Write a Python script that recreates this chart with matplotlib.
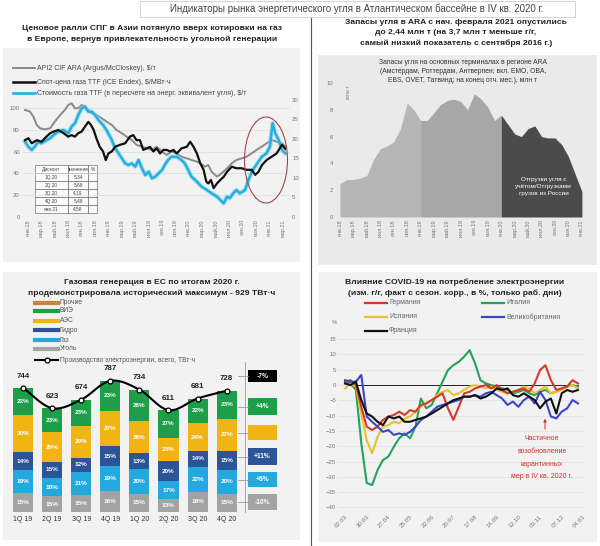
import numpy as np
import matplotlib
matplotlib.use("Agg")
import matplotlib.pyplot as plt
from matplotlib.patches import Rectangle, Ellipse, FancyArrowPatch
from matplotlib.lines import Line2D

plt.rcParams["font.family"] = ["Liberation Sans", "DejaVu Sans"]

# ---------------- data ----------------
# top-left: (month since Jan 2018, value)
coal_api2 = [(-0.45, 98.2), (0.3, 96.6), (0.8, 92.0), (1.3, 84.4), (1.8, 81.3), (2.5, 80.4), (3.3, 81.3),
             (4.0, 87.5), (4.8, 93.6), (5.5, 98.2), (6.0, 102.7), (6.5, 104.3), (7.0, 99.7), (7.5, 99.7),
             (8.0, 102.7), (8.5, 101.2), (9.0, 98.2), (9.5, 95.1), (10.2, 93.6), (11.0, 90.5), (11.7, 87.5),
             (12.5, 84.4), (13.2, 79.8), (14.0, 76.8), (14.7, 73.7), (15.5, 70.6), (16.2, 66.1), (17.0, 64.5),
             (17.7, 63.0), (18.5, 61.5), (19.2, 64.5), (20.0, 59.9), (20.7, 56.9), (21.4, 59.9), (22.2, 58.4),
             (22.9, 55.3), (23.7, 53.8), (24.4, 52.3), (25.2, 50.8), (25.7, 49.2), (26.4, 46.2), (26.9, 47.7),
             (27.4, 41.6), (28.2, 37.0), (28.9, 40.1), (29.7, 44.6), (30.4, 49.2), (31.1, 52.3), (31.9, 53.8),
             (32.6, 55.3), (33.4, 58.4), (34.1, 61.5), (34.9, 64.5), (35.6, 67.6), (36.4, 70.6), (37.1, 69.1),
             (37.9, 67.6), (38.4, 64.5)]
gas_ttf = [(-0.45, 19.7), (0.05, 20.2), (0.55, 18.9), (1.3, 19.7), (2.0, 19.3), (2.5, 20.2), (3.3, 21.5),
           (3.8, 21.9), (4.5, 22.3), (5.3, 21.5), (6.0, 20.6), (6.5, 21.0), (7.0, 20.6), (7.5, 21.5), (8.0, 21.9),
           (8.5, 23.2), (9.0, 24.4), (9.4, 23.6), (9.8, 22.3), (10.2, 20.2), (10.7, 18.0), (11.2, 16.8),
           (11.6, 14.6), (12.0, 16.3), (12.5, 16.8), (13.0, 18.0), (13.7, 18.5), (14.5, 18.9), (15.2, 20.6),
           (15.7, 21.0), (16.2, 19.7), (16.7, 19.7), (17.2, 17.2), (17.7, 17.6), (18.2, 18.0), (18.7, 16.8),
           (19.2, 17.6), (19.7, 16.3), (20.2, 17.2), (20.7, 17.2), (21.2, 16.8), (21.7, 17.2), (22.2, 16.3),
           (22.9, 17.6), (23.7, 18.0), (24.2, 19.3), (24.7, 18.0), (25.2, 16.3), (25.7, 13.8), (26.2, 12.1),
           (26.6, 9.1), (26.9, 8.6), (27.3, 9.5), (27.7, 7.4), (28.2, 8.6), (28.7, 9.5), (29.2, 10.3),
           (29.7, 11.6), (30.4, 12.9), (31.1, 12.5), (31.9, 12.5), (32.6, 12.1), (33.4, 12.1), (33.9, 10.8),
           (34.4, 11.6), (34.9, 13.3), (35.6, 14.6), (36.4, 15.5), (37.1, 16.3), (37.9, 18.5), (38.4, 17.5)]
gas_coal_eq = [(-0.45, 69.1), (0.05, 64.5), (0.55, 61.5), (1.0, 64.5), (1.5, 69.1), (2.0, 67.6), (2.8, 70.6),
               (3.3, 72.2), (3.8, 75.2), (4.5, 78.3), (5.3, 79.8), (6.0, 76.8), (6.5, 82.9), (7.0, 85.9),
               (7.5, 93.6), (8.0, 99.7), (8.5, 101.2), (9.0, 96.6), (9.5, 96.6), (10.0, 93.6), (10.5, 89.0),
               (11.2, 84.4), (11.7, 79.8), (12.5, 70.6), (13.0, 63.0), (13.5, 58.4), (14.0, 53.8), (14.5, 49.2),
               (15.0, 47.7), (15.5, 49.2), (16.0, 46.2), (16.5, 52.3), (17.0, 44.6), (17.5, 38.5), (18.0, 41.6),
               (18.5, 35.5), (19.0, 37.0), (19.5, 40.1), (20.0, 43.1), (20.4, 47.7), (20.9, 52.3), (21.4, 55.3),
               (22.2, 55.3), (22.9, 52.3), (23.4, 49.2), (23.9, 43.1), (24.4, 37.0), (25.2, 32.4), (25.9, 27.8),
               (26.7, 24.8), (27.4, 21.7), (28.2, 18.7), (28.7, 15.6), (29.2, 12.5), (29.7, 18.7), (30.1, 17.1),
               (30.6, 21.7), (31.1, 24.8), (31.6, 21.7), (32.4, 24.8), (32.9, 33.9), (33.4, 41.6), (33.9, 46.2),
               (34.4, 50.8), (34.9, 55.3), (35.6, 58.4), (36.1, 64.5), (36.5, 85.9), (36.9, 76.8), (37.4, 70.6),
               (37.9, 61.5), (38.4, 58.4)]
month_labels = ["янв.18", "мар.18", "май.18", "июл.18", "сен.18", "ноя.18", "янв.19", "мар.19", "май.19",
                "июл.19", "сен.19", "ноя.19", "янв.20", "мар.20", "май.20", "июл.20", "сен.20", "ноя.20",
                "янв.21", "мар.21"]
spread_rows = ["1Q.20", "2Q.20", "3Q.20", "4Q.20", "янв.21"]
spread_vals = ["5,34", "5,68", "4,19", "5,48", "4,58"]

# top-right: ARA coal stocks, monthly Jan 2018 - Jan 2021, mln t
ara_stocks = [2.5, 2.8, 2.8, 2.9, 3.1, 4.3, 5.1, 5.3, 5.6, 6.6, 8.5, 8.0, 7.2, 7.2, 7.8, 8.4, 8.7, 8.8, 8.6,
              8.0, 9.2, 8.8, 8.2, 7.2, 7.6, 6.9, 6.2, 6.0, 6.6, 6.8, 6.0, 5.9, 5.9, 5.4, 4.5, 3.2, 1.9]

# bottom-left: EU generation by quarter
quarters = ["1Q 19", "2Q 19", "3Q 19", "4Q 19", "1Q 20", "2Q 20", "3Q 20", "4Q 20"]
total_twh = [744, 623, 674, 787, 734, 611, 681, 728]
share_coal = [15, 15, 15, 16, 15, 13, 18, 15]      # gray, bottom
share_gas = [19, 18, 21, 19, 20, 17, 22, 20]       # light blue
share_hydro = [14, 15, 12, 15, 13, 20, 14, 15]     # dark blue
share_nuclear = [30, 29, 29, 27, 26, 23, 24, 27]   # yellow
share_res = [22, 23, 23, 23, 26, 27, 22, 23]       # green, top
yoy_labels = ["-7%", "+4%", "", "+11%", "+6%", "-10%"]

# bottom-right: weekly y/y change of power demand, %
week_labels = ["02.03", "30.03", "27.04", "25.05", "22.06", "20.07", "17.08", "14.09", "12.10", "09.11",
               "07.12", "04.01"]
germany = [1.1, 1.6, 0, -7.1, -13.6, -14.7, -13.6, -11.4, -10.3, -9.8, -8.7, -9.8, -8.2, -8.7, -6.5, -6.0,
           -4.9, -3.8, -2.7, -7.6, -11.4, -7.1, -2.7, -2.2, -1.1, -0.5, 0, -1.1, 0, -1.6, -2.7, -2.2, -1.6,
           -1.1, -2.2, 0.5, 4.9, 6.5, 1.6, -1.6, -1.1, -0.5, 1.6, 0.5]
italy = [1.1, 0.5, -1.6, -19, -32, -32.7, -27.8, -24.5, -23.4, -20.2, -17.4, -15.8, -17.4, -13.6, -4.4, -7.6,
         -6.5, -2.7, 1.1, 4.9, 6.5, 7.6, 9.3, 11.4, 7.1, 1.6, 0.5, 0, -0.5, -1.1, -1.6, -2.7, -2.2, -1.6, -2.7,
         -3.3, -2.2, -1.6, -2.7, -2.2, -1.1, -0.5, 0, -0.5]
spain = [-1.1, 0.5, -0.5, -9.3, -18, -22.3, -16.9, -13.6, -13.1, -12.0, -12.5, -10.9, -10.3, -8.7, -7.1, -6.0,
         -4.9, -3.3, -2.2, -1.6, -3.3, -2.7, -1.6, -0.5, 0, -0.5, -1.1, -0.5, -1.6, -2.2, -2.7, -2.2, -1.6,
         -0.5, -1.1, -2.7, -1.6, -0.5, -2.7, -2.2, -1.6, -0.5, 0, -1.1]
uk = [1.6, 1.1, 1.1, 3.3, -10.3, -12.0, -13.6, -15.3, -14.7, -16.3, -15.8, -16.3, -15.3, -13.6, -11.4, -10.3,
      -8.7, -7.1, -6.5, -6.0, -5.4, -4.9, -3.8, -3.8, -3.3, -3.8, -2.7, -2.2, -3.3, -4.4, -6.5, -5.4, -7.1,
      -4.9, -3.8, -6.0, -2.2, -4.9, -10.3, -10.9, -8.7, -7.6, -4.9, -6.0]
france = [0.5, 0, 1.1, -4.9, -9.3, -10.3, -12.0, -13.1, -10.3, -10.9, -10.3, -12.0, -12.0, -11.4, -10.9, -10.3,
          -9.3, -8.2, -7.1, -6.0, -4.9, -4.4, -3.8, -3.8, -3.3, -4.4, -3.8, -2.7, -1.1, -1.6, -1.1, -3.3, -3.8,
          -2.7, -3.8, -4.9, -7.6, -5.4, -4.4, -9.3, -2.7, -1.6, -2.2, -1.6]

# ---------------- layout helpers (pixels) ----------------
W, H = 600, 546
fig = plt.figure(figsize=(6, 5.46), dpi=100, facecolor="white")


def box(l, t, r, b):
    return [l / W, 1 - b / H, (r - l) / W, (b - t) / H]


def ftext(x, y, s, **kw):
    fig.text(x / W, 1 - y / H, s, **kw)


def frect(l, t, r, b, **kw):
    fig.add_artist(Rectangle((l / W, 1 - b / H), (r - l) / W, (b - t) / H, transform=fig.transFigure, **kw))


def fline(xs, ys, **kw):
    fig.add_artist(Line2D([x / W for x in xs], [1 - y / H for y in ys], transform=fig.transFigure, **kw))


def smooth(xs, ys, n=16):
    # catmull-rom through the points
    xs, ys = np.asarray(xs, float), np.asarray(ys, float)
    px = np.r_[2 * xs[0] - xs[1], xs, 2 * xs[-1] - xs[-2]]
    py = np.r_[2 * ys[0] - ys[1], ys, 2 * ys[-1] - ys[-2]]
    ox, oy = [], []
    t = np.linspace(0, 1, n, endpoint=False)
    for i in range(1, len(px) - 2):
        for p, o in ((px, ox), (py, oy)):
            p0, p1, p2, p3 = p[i - 1], p[i], p[i + 1], p[i + 2]
            o.extend(0.5 * (2 * p1 + (-p0 + p2) * t + (2 * p0 - 5 * p1 + 4 * p2 - p3) * t ** 2
                            + (-p0 + 3 * p1 - 3 * p2 + p3) * t ** 3))
    ox.append(xs[-1]); oy.append(ys[-1])
    return ox, oy


def clean(ax):
    for s in ax.spines.values():
        s.set_visible(False)
    ax.tick_params(length=0, labelsize=4.3, labelcolor="#777777", pad=1.5)
    ax.set_facecolor("none")


# panel backgrounds and frame (behind the axes)
bg = dict(edgecolor="none", zorder=-10)
frect(3, 48, 300, 262, facecolor="#f2f2f2", **bg)
frect(318, 55, 597, 265, facecolor="#eaeaea", **bg)
frect(3, 272, 300, 540, facecolor="#f2f2f2", **bg)
frect(318, 272, 597, 542, facecolor="#f2f2f2", **bg)
fline([311, 311], [18, 546], color="#555555", lw=0.8)
frect(140, 1, 575, 17, facecolor="white", edgecolor="#cccccc", lw=0.6, zorder=-5)
ftext(357, 9, "Индикаторы рынка энергетического угля в Атлантическом бассейне в IV кв. 2020 г.",
      fontsize=7, color="#444444", ha="center", va="center")

# ---------------- top-left ----------------
bold = dict(fontsize=6.1, fontweight="bold", color="#222222", ha="center", va="center")
ftext(152, 28, "Ценовое ралли СПГ в Азии потянуло вверх котировки на газ", **bold)
ftext(152, 39, "в Европе, вернув привлекательность угольной генерации", **bold)

legend_tl = [("#8a8a8a", 1.4, "API2 CIF ARA (Argus/McCloskey), $/т", 68),
             ("#111111", 1.8, "Спот-цена газа TTF (ICE Endex), $/МВт·ч", 82),
             ("#2bb5e3", 2.0, "Стоимость газа TTF (в пересчете на энерг. эквивалент угля), $/т", 93)]
for col, lw, lab, y in legend_tl:
    fline([13, 35], [y, y], color=col, lw=lw)
    ftext(37, y, lab, fontsize=5, color="#444444", va="center")

ax1 = fig.add_axes(box(22, 100, 290, 217))
ax1r = ax1.twinx()
for a in (ax1, ax1r):
    clean(a)
ax1.set_xlim(-0.9, 39.1)
ax1.set_ylim(0, 107.3)
ax1r.set_ylim(0, 30)
ax1.set_yticks(range(0, 101, 20))
ax1r.set_yticks(range(0, 31, 5))
ax1.grid(axis="y", color="#dddddd", lw=0.5)
ax1.set_axisbelow(True)
ax1.set_xticks(range(0, 39, 2))
ax1.set_xticklabels(month_labels, rotation=90, fontsize=4)

m, v = zip(*coal_api2)
ax1.plot(m, v, color="#8a8a8a", lw=1.4)
m, v = zip(*gas_coal_eq)
ax1.plot(m, v, color="#8fd8f0", lw=3.4, alpha=0.6)
ax1.plot(m, v, color="#22b0e0", lw=1.8)
m, v = zip(*gas_ttf)
ax1r.plot(m, v, color="#111111", lw=1.6)

tbl = ax1.table(cellText=[[r, val, ""] for r, val in zip(spread_rows, spread_vals)],
                colLabels=["Дисконт", "значение", "%"], colWidths=[0.53, 0.33, 0.14],
                bbox=[0.0485, 0.034, 0.231, 0.41], cellLoc="center")
tbl.auto_set_font_size(False)
for cell in tbl.get_celld().values():
    cell.set_fontsize(3.4)
    cell.set_linewidth(0.4)
    cell.set_edgecolor("#555555")
    cell.set_facecolor("#fafafa")
    cell.get_text().set_color("#444444")

fig.add_artist(Ellipse((266 / W, 1 - 160 / H), 43 / W, 86 / H, transform=fig.transFigure,
                       fill=False, edgecolor="#a34848", lw=0.8))

# ---------------- top-right ----------------
for i, s in enumerate(["Запасы угля в ARA с нач. февраля 2021 опустились",
                       "до 2,44 млн т (на 3,7 млн т меньше г/г,",
                       "самый низкий показатель с сентября 2016 г.)"]):
    ftext(456, 22 + 10.5 * i, s, **bold)
for i, s in enumerate(["Запасы угля на основных терминалах в регионе ARA",
                       "(Амстердам, Роттердам, Антверпен; вкл. EMO, OBA,",
                       "EBS, OVET, Татвинд; на конец отч. мес.), млн т"]):
    ftext(463, 63 + 8.5 * i, s, fontsize=4.9, color="#333333", ha="center", va="center")

ax2 = fig.add_axes(box(335, 83, 587, 217))
clean(ax2)
ax2.set_xlim(-0.74, 36.76)
ax2.set_ylim(0, 10)
mon = np.arange(len(ara_stocks))
ax2.fill_between(mon[:13], ara_stocks[:13], color="#b6b6b6", lw=0)
ax2.fill_between(mon[12:25], ara_stocks[12:25], color="#a7a7a7", lw=0)
ax2.fill_between(mon[24:], ara_stocks[24:], color="#4b4b4b", lw=0)
ax2.set_yticks(range(0, 11, 2))
ax2.set_xticks(range(0, 37, 2))
ax2.set_xticklabels(month_labels[:19], rotation=90, fontsize=4)
ax2.text(1.2, 9.8, "млн т", rotation=90, fontsize=3.8, color="#777777", ha="center", va="top")
ax2.text(30.3, 2.3, "Отгрузки угля с\nучётом/Отгрузками\nгрузов из России", fontsize=4.6,
         color="white", ha="center", va="center", linespacing=1.5)

# ---------------- bottom-left ----------------
ftext(152, 282, "Газовая генерация в ЕС по итогам 2020 г.", **bold)
ftext(152, 293, "продемонстрировала исторический максимум - 929 ТВт·ч", **bold)

colors_bl = {"coal": "#a3a3a3", "gas": "#23a9de", "hydro": "#2b5596", "nuc": "#f0b514", "res": "#1f9e4a"}
legend_bl = [("#c8843c", "Прочие", 303), (colors_bl["res"], "ВИЭ", 311), (colors_bl["nuc"], "АЭС", 321),
             (colors_bl["hydro"], "Гидро", 330), (colors_bl["gas"], "Газ", 340), (colors_bl["coal"], "Уголь", 349)]
for col, lab, y in legend_bl:
    fline([35, 58], [y, y], color=col, lw=3)
    ftext(60, y, lab, fontsize=4.8, color="#555555", va="center")
fline([35, 58], [360, 360], color="black", lw=1.5)
fline([46.5], [360], marker="o", ms=3.5, mfc="white", mec="black", mew=0.9)
ftext(60, 360, "Производство электроэнергии, всего, ТВт·ч", fontsize=4.8, color="#555555", va="center")

ax3 = fig.add_axes(box(8, 360, 290, 512))
clean(ax3)
ax3.set_xlim(-0.515, 9.175)
ax3.set_ylim(0, 912)
ax3.set_yticks([])
x = np.arange(len(quarters))
tot = np.array(total_twh, float)
bottom = np.zeros(len(x))
for key, sh in (("coal", share_coal), ("gas", share_gas), ("hydro", share_hydro),
                ("nuc", share_nuclear), ("res", share_res)):
    h = tot * np.array(sh) / 100
    ax3.bar(x, h, bottom=bottom, width=0.69, color=colors_bl[key], lw=0)
    for xi, b, hh, s in zip(x, bottom, h, sh):
        ax3.text(xi, b + hh / 2, f"{s}%", ha="center", va="center", fontsize=4.6,
                 fontweight="bold", color="white")
    bottom += h
sx, sy = smooth(x, tot)
ax3.plot(sx, sy, color="black", lw=1.5)
ax3.plot(x, tot, "o", ms=3.5, mfc="white", mec="black", mew=0.9)
for xi, t in zip(x, total_twh):
    ax3.text(xi, t + 50, str(t), ha="center", va="bottom", fontsize=5.8, fontweight="bold", color="#222222")
ax3.set_xticks(x)
ax3.set_xticklabels(quarters, fontsize=5, color="#333333")
ax3.tick_params(axis="x", labelcolor="#333333", pad=3)

box_cols = ["black", colors_bl["res"], colors_bl["nuc"], colors_bl["hydro"], colors_bl["gas"], colors_bl["coal"]]
box_pos = [(370, 382), (398, 415), (425, 440), (448, 465), (472, 487), (494, 510)]
fline([245, 245], [362, 512], color="#9a9a9a", lw=0.6)
for col, (t, b), lab in zip(box_cols, box_pos, yoy_labels):
    frect(248, t, 277, b, facecolor=col, edgecolor="none")
    fline([238, 248], [(t + b) / 2, (t + b) / 2], color="#9a9a9a", lw=0.6)
    ftext(262.5, (t + b) / 2, lab, fontsize=4.8, fontweight="bold", color="white", ha="center", va="center")

# ---------------- bottom-right ----------------
ftext(455, 282, "Влияние COVID-19 на потребление электроэнергии", **bold)
ftext(455, 293, "(изм. г/г, факт с сезон. корр., в %, только раб. дни)", **bold)

colors_br = {"Германия": "#d8372c", "Италия": "#22a35a", "Испания": "#e7c22e",
             "Великобритания": "#3b45c8", "Франция": "#111111"}
legend_br = [("Германия", 365, 303), ("Испания", 365, 317), ("Франция", 365, 331),
             ("Италия", 482, 303), ("Великобритания", 482, 317)]
for lab, x0, y in legend_br:
    fline([x0, x0 + 22], [y, y], color=colors_br[lab], lw=1.6)
    ftext(x0 + 24, y, lab, fontsize=5, color="#666666", va="center")

ax4 = fig.add_axes(box(338, 330, 585, 512))
clean(ax4)
ax4.set_xlim(-1.3, 44.3)
ax4.set_ylim(-41.5, 18)
ax4.set_yticks(range(-40, 16, 5))
ax4.grid(axis="y", color="#e2e2e2", lw=0.5)
ax4.set_axisbelow(True)
wk = np.arange(len(germany))
ax4.hlines(0, 2, 43, color="#222222", lw=0.7)
for lab, ser in (("Италия", italy), ("Испания", spain), ("Германия", germany),
                 ("Великобритания", uk), ("Франция", france)):
    ax4.plot(wk, ser, color=colors_br[lab], lw=1.5)
ax4.set_xticks(range(0, 45, 4))
ax4.set_xticklabels(week_labels, rotation=45, ha="right", rotation_mode="anchor", fontsize=4.5)
ftext(334, 322, "%", fontsize=4.3, color="#777777", ha="center", va="center")

for i, s in enumerate(["Частичное", "возобновление", "карантинных", "мер в IV кв. 2020 г."]):
    ftext(542, 439 + 12.5 * i, s, fontsize=5, color="#d03030", ha="center", va="center")
fig.add_artist(FancyArrowPatch((545 / W, 1 - 432 / H), (545 / W, 1 - 416 / H), transform=fig.transFigure,
                               arrowstyle="-|>", mutation_scale=4, color="#d03030", lw=0.7))

fig.savefig("out.png", dpi=100, facecolor="white")
